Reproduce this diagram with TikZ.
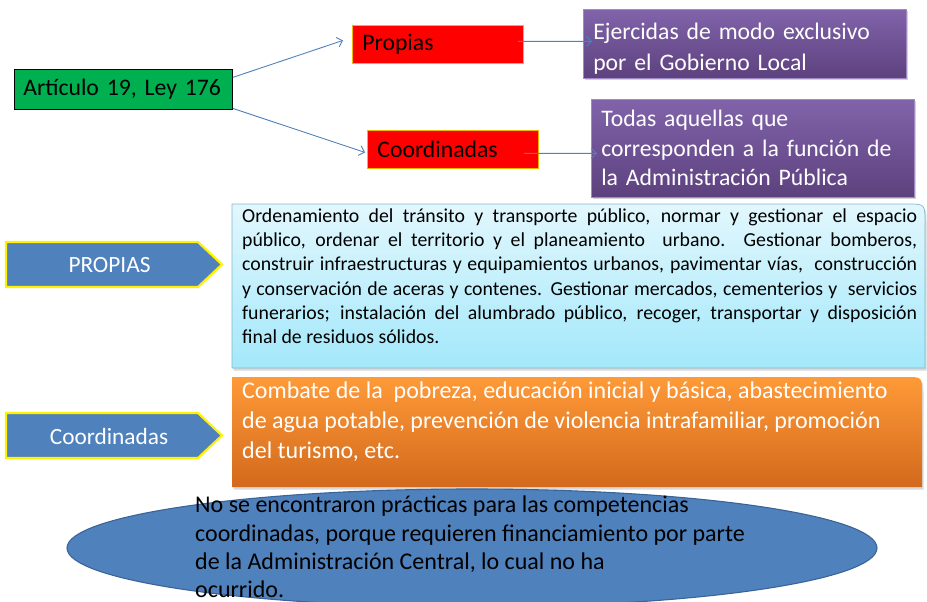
\documentclass[tikz,border=0pt]{standalone}
\usepackage{fontspec}
\setmainfont{Carlito}
\usetikzlibrary{arrows.meta,shadows}
\definecolor{arrowblue}{HTML}{4F81BD}
\definecolor{boxgreen}{HTML}{00B050}
\definecolor{redborder}{HTML}{F2B800}
\definecolor{purpletop}{HTML}{8163AA}
\definecolor{purplebot}{HTML}{5D417E}
\definecolor{purpleline}{HTML}{A08AC4}
\definecolor{tagblue}{HTML}{4F81BD}
\definecolor{cyantop}{HTML}{E2F7FD}
\definecolor{cyanbot}{HTML}{A3E8FB}
\definecolor{cyanline}{HTML}{86B6C9}
\definecolor{orangetop}{HTML}{FF9A38}
\definecolor{orangebot}{HTML}{D2691C}
\definecolor{ellline}{HTML}{3A6496}
\tikzset{
  arr/.style={draw=arrowblue, line width=0.9pt, -{Straight Barb[length=5pt,width=10pt]}},
  greenbox/.style={draw=black, line width=0.8pt, fill=boxgreen, anchor=north west, align=left,
    inner xsep=9pt, inner ysep=0pt, minimum height=40pt, text width=200pt, font=\fontsize{23.7}{29}\selectfont},
  redbox/.style={draw=redborder, line width=0.8pt, fill=red, anchor=north west, align=left,
    inner xsep=10pt, inner ysep=0pt, minimum height=38pt, text width=151pt, font=\fontsize{23.7}{29}\selectfont},
  purplebox/.style={draw=purpleline, line width=0.6pt, top color=purpletop, bottom color=purplebot,
    anchor=north west, align=left, inner xsep=10pt, inner ysep=0pt, text width=303pt, text=white,
    font=\fontsize{23.7}{29.5}\selectfont,
    drop shadow={shadow xshift=1.5pt, shadow yshift=-2pt, opacity=0.35}},
  tagshape/.style={draw=yellow, line width=2.2pt, fill=tagblue, line join=miter},
  taglabel/.style={text=white, font=\fontsize{23.3}{28}\selectfont},
  softshadow/.style={drop shadow={shadow xshift=1.5pt, shadow yshift=-2.5pt, opacity=0.3}},
}
\begin{document}
\begin{tikzpicture}[x=1pt,y=-1pt]
\useasboundingbox (0,0) rectangle (927,602);

% --- top part ---
\node[greenbox, minimum width=218pt] (art) at (14,69) {Artículo 19, Ley 176};
\node[redbox] (prop) at (352,25) {Propias};
\node[redbox] (coord) at (367,130) {Coordinadas};
\node[purplebox, minimum height=69pt] (pur1) at (583,9) {\rule{0pt}{27pt}Ejercidas de modo exclusivo\\[1.5pt]por el Gobierno Local};
\node[purplebox, minimum height=98pt] (pur2) at (591,99) {Todas aquellas que\\corresponden a la función de\\la Administración Pública};

\draw[arr] ([yshift=12pt]art.east) -- ([xshift=-9pt,yshift=4pt]prop.west);
\draw[arr] ([yshift=-19pt]art.east) -- ([xshift=-2pt,yshift=-3pt]coord.west);
\draw[arr] ([xshift=-6pt,yshift=3pt]prop.east) -- ([xshift=9pt,yshift=2.5pt]pur1.west);
\draw[arr] ([xshift=-15pt,yshift=-4pt]coord.east) -- ([xshift=6pt,yshift=-5pt]pur2.west);

% --- PROPIAS tag and cyan box ---
\draw[tagshape] (6,242) -- (198,242) -- (222,264.5) -- (198,287) -- (6,287) -- cycle;
\node[taglabel] (tagprop) at (109.5,265) {PROPIAS};

\path[softshadow, draw=cyanline, line width=0.7pt, top color=cyantop, bottom color=cyanbot]
  (232,368) -- (232,204) -- (907,204) .. controls (925,204) .. (925,222) -- (925,368) -- cycle;
\node[anchor=north west, inner sep=0pt, align=left] (proptext) at (242,208.5) {%
  \parbox{675pt}{\fontsize{19.8}{24.2}\selectfont
  Ordenamiento del tránsito y transporte público, normar y gestionar el espacio\linebreak
  público, ordenar el territorio y el planeamiento\ \ urbano. Gestionar bomberos,\linebreak
  construir infraestructuras y equipamientos urbanos, pavimentar vías,\ \ construcción\linebreak
  y conservación de aceras y contenes. Gestionar mercados, cementerios y\ \ servicios\linebreak
  funerarios; instalación del alumbrado público, recoger, transportar y disposición\linebreak
  final de residuos sólidos.}};

% --- Coordinadas tag and orange box ---
\draw[tagshape] (6,413) -- (198,413) -- (222,435.5) -- (198,458) -- (6,458) -- cycle;
\node[taglabel] (tagcoord) at (109,436) {Coordinadas};

\path[softshadow, top color=orangetop, bottom color=orangebot]
  (232,487) -- (232,377) -- (906,377) .. controls (922,377) .. (922,393) -- (922,487) -- cycle;
\node[anchor=north west, inner sep=0pt, align=left, text=white,
  font=\fontsize{24}{30.2}\selectfont] (coordtext) at (242,381.5)
  {Combate de la\ \ pobreza, educación inicial y básica, abastecimiento\\
   de agua potable, prevención de violencia intrafamiliar, promoción\\
   del turismo, etc.};

% --- ellipse ---
\draw[fill=tagblue, draw=ellline, line width=1.1pt] (472,548) ellipse [x radius=405, y radius=59];
\node[anchor=north west, inner sep=0pt, align=left,
  font=\fontsize{24}{28.3}\selectfont] (elltext) at (195,496)
  {No se encontraron prácticas para las competencias\\
   coordinadas, porque requieren financiamiento por parte\\
   de la Administración Central, lo cual no ha\\
   ocurrido.};
\end{tikzpicture}
\end{document}
